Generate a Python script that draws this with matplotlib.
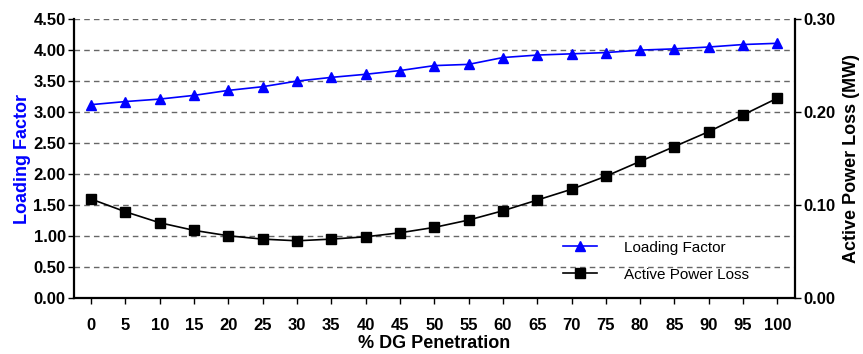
import matplotlib
matplotlib.use("Agg")
import matplotlib.pyplot as plt
from matplotlib.ticker import FormatStrFormatter

plt.rcParams['font.family'] = ['Liberation Sans', 'DejaVu Sans']

dg_penetration = [0, 5, 10, 15, 20, 25, 30, 35, 40, 45, 50, 55, 60, 65, 70, 75, 80, 85, 90, 95, 100]
loading_factor = [3.12, 3.17, 3.21, 3.27, 3.35, 3.41, 3.50, 3.56, 3.61, 3.67, 3.75, 3.77, 3.88, 3.92,
                  3.94, 3.96, 4.00, 4.02, 4.05, 4.09, 4.11]
power_loss = [0.1065, 0.0928, 0.0810, 0.0728, 0.0670, 0.0634, 0.0616, 0.0634, 0.0659, 0.0702, 0.0760,
              0.0839, 0.0939, 0.1054, 0.1170, 0.1310, 0.1470, 0.1630, 0.1790, 0.1970, 0.2150]

fig = plt.figure(figsize=(8.63, 3.54), dpi=100)
ax = fig.add_axes([0.0857, 0.158, 0.835, 0.788])
ax2 = ax.twinx()

l1, = ax.plot(dg_penetration, loading_factor, color='#0000ff', lw=1.2, marker='^', ms=7,
              label='Loading Factor', zorder=3)
l2, = ax2.plot(dg_penetration, power_loss, color='black', lw=1.2, marker='s', ms=6.5,
               label='Active Power Loss', zorder=3)

ax.set_xlim(-2.5, 102.5)
ax.set_ylim(0, 4.5)
ax2.set_ylim(0, 0.30)
ax.set_xticks(dg_penetration)
ax.set_yticks([i * 0.5 for i in range(10)])
ax2.set_yticks([0.0, 0.1, 0.2, 0.3])
ax.yaxis.set_major_formatter(FormatStrFormatter('%.2f'))
ax2.yaxis.set_major_formatter(FormatStrFormatter('%.2f'))

ax.grid(axis='y', linestyle=(0, (4, 3)), color='#666666', lw=1.0)
ax.set_axisbelow(True)

for a in (ax, ax2):
    a.spines['top'].set_visible(False)
    for s in ('left', 'right', 'bottom'):
        a.spines[s].set_linewidth(1.6)
ax.spines['right'].set_visible(False)
ax2.spines['left'].set_visible(False)
ax2.spines['bottom'].set_visible(False)

ax.tick_params(axis='x', direction='out', length=4, width=1, labelsize=12, pad=10)
ax.tick_params(axis='y', direction='out', length=4, width=1, labelsize=12, pad=2)
ax2.tick_params(axis='y', direction='out', length=4, width=1, labelsize=12, pad=2)
for lab in ax.get_xticklabels() + ax.get_yticklabels() + ax2.get_yticklabels():
    lab.set_fontweight('bold')

ax.set_xlabel('% DG Penetration', fontsize=13, fontweight='bold', labelpad=2)
ax.set_ylabel('Loading Factor', fontsize=13, fontweight='bold', color='#0000ff', labelpad=2)
ax2.set_ylabel('Active Power Loss (MW)', fontsize=13, fontweight='bold', labelpad=6)

ax.legend([l1, l2], ['Loading Factor', 'Active Power Loss'], loc='upper left',
          bbox_to_anchor=(0.66, 0.255), frameon=False, fontsize=11, handlelength=2.2,
          handletextpad=1.8, labelspacing=0.85)

fig.savefig('out.png', dpi=100)
